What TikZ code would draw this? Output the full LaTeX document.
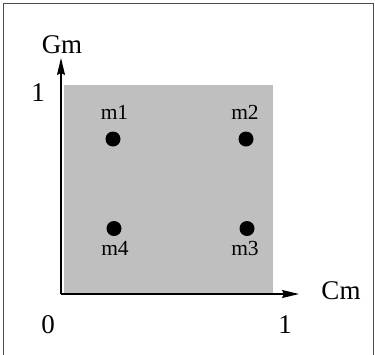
\documentclass[tikz,border=0pt]{standalone}
\usepackage{fontspec}
\setmainfont{Liberation Serif}
\usetikzlibrary{arrows.meta}
\begin{document}
\begin{tikzpicture}[x=1pt,y=-1pt,
  axis/.style={line width=1.5pt,-{Stealth[length=17pt,width=8pt,inset=2pt]}},
  pt/.style={circle,fill=black,inner sep=0pt,minimum size=15pt},
  lab/.style={font=\fontsize{21.5}{21.5}\selectfont,inner sep=0pt},
  big/.style={font=\fontsize{27}{27}\selectfont,inner sep=0pt}]
\useasboundingbox (0,0) rectangle (375,354);
\fill[white] (0,0) rectangle (375,354);
\draw[line width=1pt,black!70] (3,3) rectangle (373,360);
\fill[black!25] (64,85) rectangle (273,294);
\coordinate (O) at (61,294);
\coordinate (Y) at (61,58);
\coordinate (X) at (299,294);
\draw[axis] (O) -- (Y);
\draw[axis] (O) -- (X);
\node[pt] (m1) at (113,139) {};
\node[pt] (m2) at (246,139) {};
\node[pt] (m4) at (114,228.5) {};
\node[pt] (m3) at (247,228.5) {};
\node[lab] (l1) at (114.5,112.5) {m1};
\node[lab] (l2) at (245,112.5) {m2};
\node[lab] (l4) at (115,248.7) {m4};
\node[lab] (l3) at (245,248.7) {m3};
\node[big] (gm) at (62,44.7) {Gm};
\node[big] (cm) at (341,290.5) {Cm};
\node[big] (y1) at (38,93) {1};
\node[big] (o0) at (48,325) {0};
\node[big] (x1) at (285,325) {1};
\end{tikzpicture}
\end{document}
